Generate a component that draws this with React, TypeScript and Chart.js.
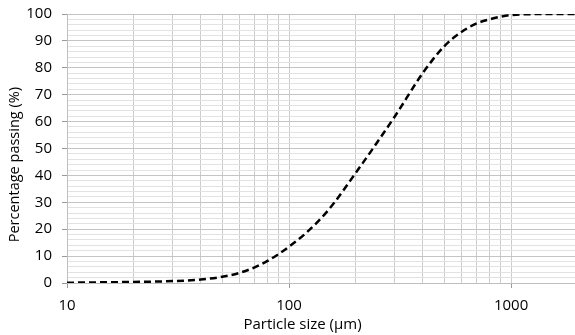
import React, { useEffect, useRef } from "react";
import { Chart, registerables } from "chart.js";

Chart.register(...registerables);

const particleSizes = [10, 20, 30, 40, 50, 60, 70, 80, 90, 100, 120, 150, 200, 300, 400, 500, 600, 700, 800, 900, 1000, 1500, 2000];
const percentPassing = [0.1, 0.4, 0.7, 1.3, 2.3, 3.8, 5.8, 8.2, 10.8, 13.5, 18.8, 27, 41, 62, 78, 88, 93.4, 96.5, 98, 99, 99.6, 100, 100];
const xGridValues = [10, 20, 30, 40, 50, 60, 70, 80, 90, 100, 200, 300, 400, 500, 600, 700, 800, 900, 1000];
const xLabelValues = [10, 100, 1000];
const xTitle = "Particle size (µm)";
const yTitle = "Percentage passing (%)";

const FONT = "'Open Sans', sans-serif";

export default function App() {
  const ref = useRef<HTMLCanvasElement | null>(null);

  useEffect(() => {
    document.body.style.margin = "0";
    const canvas = ref.current;
    if (!canvas) return;

    const titlePlugin = {
      id: "axisTitles",
      afterDraw(chart: any) {
        const { ctx, chartArea } = chart;
        ctx.save();
        ctx.fillStyle = "#000";
        ctx.textAlign = "center";
        ctx.textBaseline = "middle";
        ctx.font = `15px ${FONT}`;
        const xs = chart.scales.x;
        ctx.fillText(xTitle, xs.getPixelForValue(115), 325);
        ctx.font = `14.5px ${FONT}`;
        ctx.translate(15, chartArea.top + (chartArea.bottom - chartArea.top) * 0.56);
        ctx.rotate(-Math.PI / 2);
        ctx.fillText(yTitle, 0, 0);
        ctx.restore();
      },
    };

    const chart = new Chart(canvas, {
      type: "line",
      data: {
        datasets: [
          {
            data: particleSizes.map((x, i) => ({ x, y: percentPassing[i] })),
            borderColor: "#000",
            borderWidth: 2.5,
            borderDash: [7, 4],
            pointRadius: 0,
            fill: false,
            cubicInterpolationMode: "monotone",
          },
        ],
      },
      options: {
        animation: false,
        responsive: false,
        maintainAspectRatio: false,
        layout: { padding: { top: 14, right: 0, left: 0, bottom: 0 } },
        plugins: { legend: { display: false }, tooltip: { enabled: false } },
        scales: {
          x: {
            type: "logarithmic",
            min: 10,
            max: 1941,
            afterBuildTicks: (scale: any) => {
              scale.ticks = xGridValues.map((v) => ({ value: v, major: xLabelValues.includes(v) }));
            },
            afterFit: (scale: any) => {
              scale.height = 52;
              scale.paddingLeft = 0;
              scale.paddingRight = 0;
            },
            border: { display: true, color: "#bfbfbf", width: 1 },
            grid: {
              color: "#cccccc",
              lineWidth: 1,
              drawTicks: true,
              tickLength: 5,
              tickColor: (c: any) => (xLabelValues.includes(c.tick?.value) ? "#9a9a9a" : "rgba(0,0,0,0)"),
            },
            ticks: {
              autoSkip: false,
              maxRotation: 0,
              padding: 9,
              color: "#000",
              font: { family: FONT, size: 15 },
              callback: (v: any) => (xLabelValues.includes(Number(v)) ? String(v) : ""),
            },
          },
          y: {
            min: 0,
            max: 100,
            afterFit: (scale: any) => {
              scale.width = 67;
              scale.paddingTop = 0;
              scale.paddingBottom = 0;
            },
            border: { display: true, color: "#bfbfbf", width: 1 },
            grid: {
              color: (c: any) => (c.tick && c.tick.value % 10 === 0 ? "#c4c4c4" : "#e2e2e2"),
              lineWidth: 1,
              drawTicks: true,
              tickLength: 5,
              tickColor: (c: any) => (c.tick && c.tick.value % 10 === 0 ? "#9a9a9a" : "rgba(0,0,0,0)"),
            },
            ticks: {
              stepSize: 2,
              autoSkip: false,
              padding: 10,
              color: "#000",
              font: { family: FONT, size: 15 },
              callback: (v: any) => (Number(v) % 10 === 0 ? String(v) : ""),
            },
          },
        },
      },
      plugins: [titlePlugin],
    });

    return () => chart.destroy();
  }, []);

  return <canvas ref={ref} width={575} height={335} style={{ display: "block" }} />;
}
